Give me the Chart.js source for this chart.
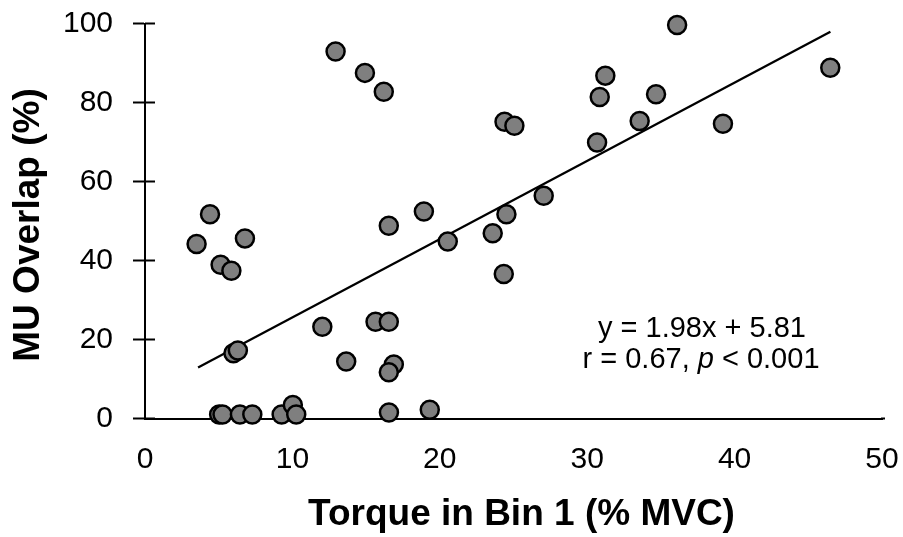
<!DOCTYPE html>
<html>
<head>
<meta charset="utf-8">
<script src="https://cdn.jsdelivr.net/npm/chart.js@4"></script>
<style>
  html, body { margin: 0; padding: 0; background: #fff; }
  #wrap { width: 903px; height: 537px; position: relative; }
</style>
</head>
<body>
<div id="wrap"><canvas id="c"></canvas></div>
<script>
// Torque in Bin 1 (% MVC)
const torque = [12.93, 14.92, 16.2, 4.41, 3.5, 6.78, 5.13, 5.86, 16.54, 18.92,
  6.0, 6.3, 12.03, 15.64, 16.54, 13.65, 16.88, 16.54,
  5.03, 5.26, 6.44, 7.28, 9.27, 10.03, 10.26, 16.55, 19.32,
  36.1, 46.49, 31.23, 30.85, 34.67, 33.56, 39.21, 30.67, 24.39, 25.06,
  27.05, 24.52, 23.59, 20.54, 24.34];
// MU Overlap (%)
const overlap = [92.9, 87.5, 82.7, 51.7, 44.2, 45.6, 38.9, 37.4, 48.8, 52.4,
  16.5, 17.2, 23.2, 24.5, 24.5, 14.4, 13.7, 11.7,
  1.0, 1.0, 1.0, 1.0, 1.0, 3.4, 1.0, 1.5, 2.2,
  99.6, 88.8, 86.8, 81.4, 82.1, 75.3, 74.6, 69.9, 75.1, 74.1,
  56.4, 51.7, 46.9, 44.8, 36.6];
// Regression line end points
const trendX = [3.6, 46.5];
const trendY = [12.9, 97.9];

const xTicks = [0, 10, 20, 30, 40, 50];
const yTicks = [0, 20, 40, 60, 80, 100];
const xTitle = 'Torque in Bin 1 (% MVC)';
const yTitle = 'MU Overlap (%)';
const eqLine = 'y = 1.98x + 5.81';
const statParts = ['r = 0.67, ', 'p', ' < 0.001'];

const FONT = '"Liberation Sans", Arial, sans-serif';

const scatterData = torque.map((x, i) => ({ x: x, y: overlap[i] }));
const trendData = trendX.map((x, i) => ({ x: x, y: trendY[i] }));

function noPad(s) { s.paddingTop = 0; s.paddingBottom = 0; s.paddingLeft = 0; s.paddingRight = 0; }

const extras = {
  id: 'extras',
  afterDraw(chart) {
    const ctx = chart.ctx;
    const ca = chart.chartArea;
    const ys = chart.scales.y;
    ctx.save();
    ctx.strokeStyle = '#000';
    ctx.lineWidth = 2;
    // inner part of the y tick marks (they cross the axis)
    yTicks.forEach(v => {
      const py = ys.getPixelForValue(v);
      ctx.beginPath();
      ctx.moveTo(ca.left, py);
      ctx.lineTo(ca.left + 10, py);
      ctx.stroke();
    });
    // small overshoot of the x axis line past the last tick
    ctx.beginPath();
    ctx.moveTo(ca.right - 1, ca.bottom);
    ctx.lineTo(ca.right + 3, ca.bottom);
    ctx.stroke();
    ctx.fillStyle = '#000';
    // x title
    ctx.font = 'bold 37px ' + FONT;
    ctx.textAlign = 'center';
    ctx.textBaseline = 'alphabetic';
    ctx.fillText(xTitle, (ca.left + ca.right) / 2 + 8, 525);
    // y title
    ctx.save();
    ctx.translate(39, (ca.top + ca.bottom) / 2 + 4);
    ctx.rotate(-Math.PI / 2);
    ctx.fillText(yTitle, 0, 0);
    ctx.restore();
    // annotation
    ctx.font = '29px ' + FONT;
    ctx.textAlign = 'center';
    ctx.fillText(eqLine, 702, 337);
    ctx.textAlign = 'left';
    const fN = '29px ' + FONT, fI = 'italic 29px ' + FONT;
    ctx.font = fN; const w0 = ctx.measureText(statParts[0]).width;
    ctx.font = fI; const w1 = ctx.measureText(statParts[1]).width;
    ctx.font = fN; const w2 = ctx.measureText(statParts[2]).width;
    let sx = 701 - (w0 + w1 + w2) / 2;
    ctx.font = fN; ctx.fillText(statParts[0], sx, 368); sx += w0;
    ctx.font = fI; ctx.fillText(statParts[1], sx, 368); sx += w1;
    ctx.font = fN; ctx.fillText(statParts[2], sx, 368);
    ctx.restore();
  }
};

new Chart(document.getElementById('c'), {
  data: {
    datasets: [
      {
        type: 'scatter',
        data: scatterData,
        backgroundColor: '#7f7f7f',
        borderColor: '#000',
        borderWidth: 2.5,
        pointRadius: 9,
        pointHoverRadius: 9,
        clip: false,
        order: 0
      },
      {
        type: 'line',
        data: trendData,
        borderColor: '#000',
        borderWidth: 2.3,
        pointRadius: 0,
        fill: false,
        order: 1
      }
    ]
  },
  options: {
    responsive: true,
    maintainAspectRatio: false,
    animation: false,
    layout: { autoPadding: false, padding: { top: 23.5, right: 21, left: 0, bottom: 0 } },
    plugins: { legend: { display: false }, tooltip: { enabled: false } },
    scales: {
      x: {
        type: 'linear',
        min: 0, max: 50,
        afterBuildTicks: s => { s.ticks = xTicks.map(v => ({ value: v })); },
        afterFit: s => { s.height = 118.5; noPad(s); },
        grid: { display: false },
        border: { display: true, color: '#000', width: 2 },
        ticks: { color: '#000', font: { family: FONT, size: 30 }, padding: 15, maxRotation: 0 }
      },
      y: {
        type: 'linear',
        min: 0, max: 100,
        afterBuildTicks: s => { s.ticks = yTicks.map(v => ({ value: v })); },
        afterFit: s => { s.width = 145; noPad(s); },
        grid: { display: true, drawOnChartArea: false, drawTicks: true, tickLength: 12, tickColor: '#000', tickWidth: 2 },
        border: { display: true, color: '#000', width: 2 },
        ticks: { color: '#000', font: { family: FONT, size: 30 }, padding: 20 }
      }
    }
  },
  plugins: [extras]
});
</script>
</body>
</html>
